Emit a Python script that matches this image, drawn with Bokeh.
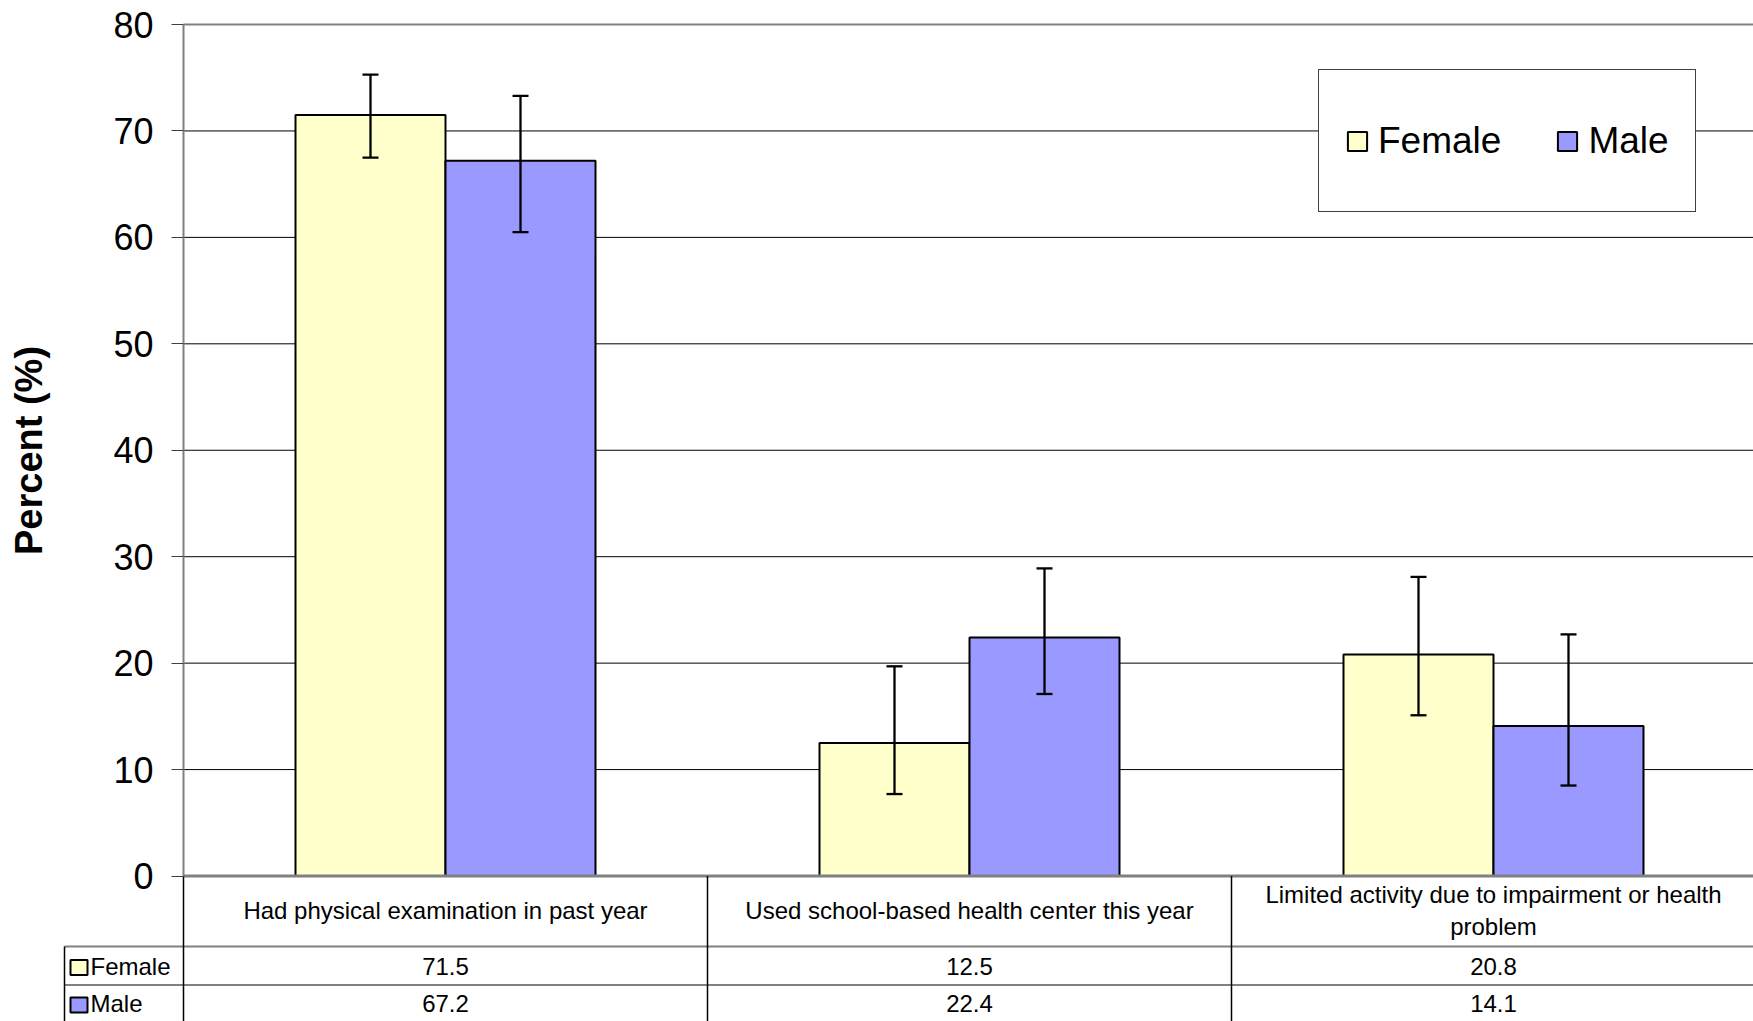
from bokeh.plotting import figure
from bokeh.models import (ColumnDataSource, Range1d, LinearAxis, FixedTicker, Whisker,
                          TeeHead, Legend, LegendItem)
from bokeh.core.properties import value
from bokeh.embed import file_html
from bokeh.resources import INLINE

# ---------------- data ----------------
categories = ["Had physical examination in past year",
              "Used school-based health center this year",
              "Limited activity due to impairment or health problem"]
category_lines = ["Had physical examination in past year",
                  "Used school-based health center this year",
                  "Limited activity due to impairment or health\nproblem"]
series = ["Female", "Male"]
female = [71.5, 12.5, 20.8]
male = [67.2, 22.4, 14.1]
female_lower = [67.5, 7.7, 15.1]
female_upper = [75.3, 19.7, 28.1]
male_lower = [60.5, 17.1, 8.5]
male_upper = [73.3, 28.9, 22.7]
y_ticks = [0, 10, 20, 30, 40, 50, 60, 70, 80]
colors = ["#FFFFCC", "#9999FF"]

# ---------------- layout (canvas pixels) ----------------
W, H = 1753, 1021
LEFT = 183.0          # canvas x of plot-area left edge
COLW = 524.0          # width of one category column
Y0, Y80 = 875.5, 24.0  # canvas y of value 0 and 80
PPU = (Y0 - Y80) / 80.0


def dx(cx):
    return (cx - LEFT) / COLW


def dy(cy):
    return (Y0 - cy) / PPU


FONTNAME = "Liberation Sans"
FONT = value(FONTNAME)
x_end = dx(W)

p = figure(width=W, height=H, x_range=Range1d(dx(0), x_end), y_range=Range1d(dy(H), dy(0)),
           x_axis_type=None, y_axis_type=None, toolbar_location=None,
           output_backend="svg", min_border=0, outline_line_color=None,
           background_fill_color="white", border_fill_color="white")

# gridlines (from the axis to the right edge)
inner = y_ticks[1:-1]
p.segment(x0=[0] * len(inner), y0=inner, x1=[x_end] * len(inner), y1=inner,
          line_color="black", line_width=1)
p.segment(x0=[0], y0=[y_ticks[-1]], x1=[x_end], y1=[y_ticks[-1]],
          line_color="#808080", line_width=2)

# bars
n = len(categories)
centers = [i + 0.5 for i in range(n)]
bw = 150.0 / COLW
src = ColumnDataSource(dict(
    xf=[c - bw / 2 for c in centers], xm=[c + bw / 2 for c in centers],
    female=female, male=male,
    fl=female_lower, fu=female_upper, ml=male_lower, mu=male_upper))
rf = p.vbar(x="xf", top="female", bottom=0, width=bw, source=src,
            fill_color=colors[0], line_color="black", line_width=2)
rm = p.vbar(x="xm", top="male", bottom=0, width=bw, source=src,
            fill_color=colors[1], line_color="black", line_width=2)

for base, lo, up in (("xf", "fl", "fu"), ("xm", "ml", "mu")):
    wk = Whisker(source=src, base=base, lower=lo, upper=up, dimension="height",
                 line_color="black", line_width=2.3, level="annotation",
                 upper_head=TeeHead(size=16, line_width=2.3, line_color="black"),
                 lower_head=TeeHead(size=16, line_width=2.3, line_color="black"))
    p.add_layout(wk)

# plot-area bottom line
p.segment(x0=[0], y0=[0], x1=[x_end], y1=[0], line_color="#808080", line_width=3)

# y axis
yaxis = LinearAxis(fixed_location=0, ticker=FixedTicker(ticks=y_ticks), bounds=(0, 80),
                   axis_line_color="#808080", axis_line_width=2,
                   major_tick_out=12, major_tick_in=0, major_tick_line_color="#404040",
                   minor_tick_out=0, minor_tick_in=0,
                   major_label_text_font=FONTNAME, major_label_text_font_size="36px",
                   major_label_text_color="black", major_label_standoff=18,
                   axis_label="Percent (%)", axis_label_text_font=FONTNAME,
                   axis_label_text_font_size="38px", axis_label_text_font_style="bold",
                   axis_label_text_color="black", axis_label_standoff=60)
p.add_layout(yaxis, "left")

# ---------------- data table under the chart ----------------
row1, row2, row3 = dy(946), dy(984.5), dy(H)
tab_left = dx(64)
p.segment(x0=[tab_left, tab_left], y0=[row1, row2], x1=[x_end, x_end], y1=[row1, row2],
          line_color="#808080", line_width=2)
p.segment(x0=[0, 1, 2], y0=[0, 0, 0], x1=[0, 1, 2], y1=[row3] * 3,
          line_color="black", line_width=1.5)
p.segment(x0=[tab_left], y0=[row1], x1=[tab_left], y1=[row3],
          line_color="black", line_width=1.5)

TFS = value("24px")
p.text(x=centers, y=[dy(910)] * n, text=category_lines, text_font=FONT,
       text_font_size=TFS, text_align="center", text_baseline="middle",
       text_color="black", text_line_height=1.15)
p.text(x=centers, y=[dy(966)] * n, text=[f"{v:.1f}" for v in female], text_font=FONT,
       text_font_size=TFS, text_align="center", text_baseline="middle",
       text_color="black")
p.text(x=centers, y=[dy(1003)] * n, text=[f"{v:.1f}" for v in male], text_font=FONT,
       text_font_size=TFS, text_align="center", text_baseline="middle",
       text_color="black")
p.rect(x=[dx(78.5)] * 2, y=[dy(967), dy(1004.5)], width=17, height=15,
       width_units="screen", height_units="screen",
       fill_color=colors, line_color="black", line_width=2)
p.text(x=[dx(90)] * 2, y=[dy(966), dy(1003)], text=series, text_font=FONT,
       text_font_size=TFS, text_align="left", text_baseline="middle",
       text_color="black")

# ---------------- legend ----------------
legend = Legend(items=[LegendItem(label=series[0], renderers=[rf]),
                       LegendItem(label=series[1], renderers=[rm])],
                orientation="horizontal", location=(1318, 809),
                glyph_width=24, glyph_height=24, label_standoff=9, spacing=54,
                padding=26, margin=0, label_height=89,
                label_text_font=FONTNAME, label_text_font_size="37px",
                label_text_color="black",
                border_line_color="#404040", border_line_width=1.3, border_line_alpha=1.0,
                background_fill_color="white", background_fill_alpha=1.0)
p.add_layout(legend)

open("out.html", "w").write(file_html(p, INLINE))
